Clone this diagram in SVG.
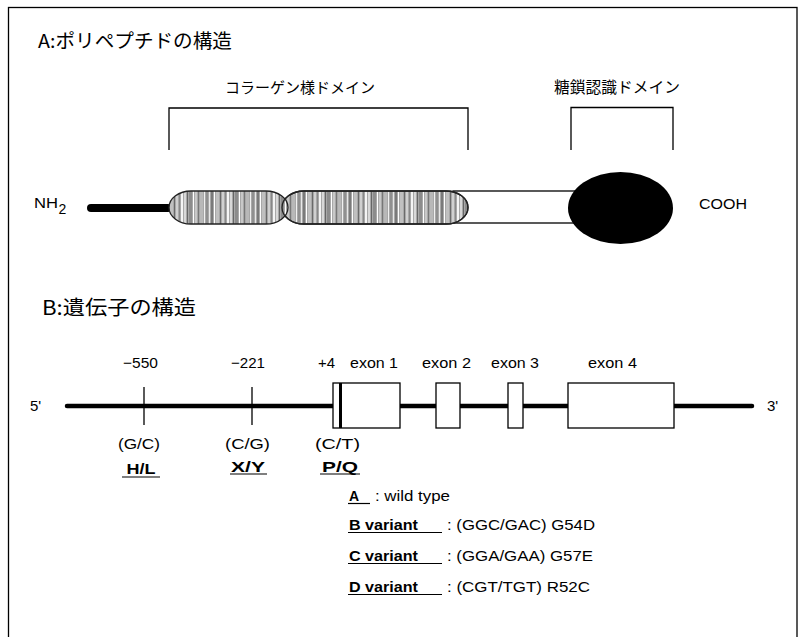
<svg xmlns="http://www.w3.org/2000/svg" width="798" height="637" viewBox="0 0 798 637">
<style>
.t{font-family:"Liberation Sans","Noto Sans CJK JP",sans-serif;fill:#000}
.j{font-family:"Noto Sans CJK JP","Liberation Sans",sans-serif;fill:#000}
.b{font-weight:bold}
.ln{stroke:#000;stroke-width:1.3;fill:none}
.box{fill:#fff;stroke:#000;stroke-width:1.3}
</style>
<defs>
<pattern id="stripes" patternUnits="userSpaceOnUse" x="0" y="0" width="46" height="40">
<rect width="46" height="40" fill="#a8a8a8"/>
<rect x="0" width="2" height="40" fill="#d8d8d8"/>
<rect x="3" width="1" height="40" fill="#666"/>
<rect x="5" width="3" height="40" fill="#8c8c8c"/>
<rect x="9" width="1" height="40" fill="#fff"/>
<rect x="11" width="2" height="40" fill="#c8c8c8"/>
<rect x="14" width="1" height="40" fill="#777"/>
<rect x="16" width="3" height="40" fill="#b8b8b8"/>
<rect x="20" width="1" height="40" fill="#f0f0f0"/>
<rect x="22" width="2" height="40" fill="#909090"/>
<rect x="25" width="1" height="40" fill="#e8e8e8"/>
<rect x="27" width="2" height="40" fill="#7a7a7a"/>
<rect x="30" width="1" height="40" fill="#fff"/>
<rect x="32" width="3" height="40" fill="#c0c0c0"/>
<rect x="36" width="1" height="40" fill="#6a6a6a"/>
<rect x="38" width="2" height="40" fill="#d0d0d0"/>
<rect x="41" width="1" height="40" fill="#888"/>
<rect x="43" width="2" height="40" fill="#f4f4f4"/>
</pattern>
</defs>
<rect x="0" y="0" width="798" height="637" fill="#fff"/>
<rect id="frame" x="8.5" y="7.5" width="788.5" height="640" fill="none" stroke="#000" stroke-width="1.3"/>

<g id="titleA"><text class="j" x="38" y="48" font-size="19" textLength="194" lengthAdjust="spacingAndGlyphs">A:ポリペプチドの構造</text></g>

<g id="collagen-domain">
<text class="j" x="225" y="93" font-size="15" textLength="150" lengthAdjust="spacingAndGlyphs">コラーゲン様ドメイン</text>
<path class="ln" d="M169,150 V108 H468 V150"/>
</g>
<g id="crd-domain">
<text class="j" x="554" y="93" font-size="15.5" textLength="126" lengthAdjust="spacingAndGlyphs">糖鎖認識ドメイン</text>
<path class="ln" d="M571,150 V107.5 H673 V150"/>
</g>

<g id="nh2"><text class="t" x="34" y="208" font-size="15" textLength="24" lengthAdjust="spacingAndGlyphs">NH</text><text class="t" x="58.5" y="213.5" font-size="14">2</text></g>
<g id="nterm"><line x1="91" y1="208" x2="168" y2="208" stroke="#000" stroke-width="8" stroke-linecap="round"/></g>

<g id="neck"><rect x="453" y="191" width="125" height="32" class="box" stroke="#333"/></g>
<g id="collagen2"><rect x="282" y="191" width="186" height="33" rx="22" ry="16.5" fill="url(#stripes)" stroke="#222" stroke-width="1.3"/></g>
<g id="collagen1"><rect x="169" y="191" width="119" height="33" rx="22" ry="16.5" fill="url(#stripes)" stroke="#222" stroke-width="1.3"/>
<rect x="282" y="191" width="186" height="33" rx="22" ry="16.5" fill="none" stroke="#222" stroke-width="1.3"/></g>
<g id="crd"><ellipse cx="620.5" cy="208" rx="52.5" ry="36" fill="#000"/></g>
<g id="cooh"><text class="t" x="699" y="209" font-size="15" textLength="48" lengthAdjust="spacingAndGlyphs">COOH</text></g>

<g id="titleB"><text class="j" x="42" y="315" font-size="20" textLength="154" lengthAdjust="spacingAndGlyphs">B:遺伝子の構造</text></g>

<g id="connectors">
<line x1="67" y1="406" x2="752" y2="406" stroke="#000" stroke-width="4.5" stroke-linecap="round"/>
<line class="ln" x1="144" y1="387" x2="144" y2="425"/>
<line class="ln" x1="252" y1="387" x2="252" y2="425"/>
</g>
<g id="ends">
<text class="t" x="30" y="411" font-size="15">5'</text>
<text class="t" x="767" y="411" font-size="15">3'</text>
</g>

<g id="exon1"><rect x="333" y="383" width="67" height="45" class="box"/><line x1="340.5" y1="383" x2="340.5" y2="428" stroke="#000" stroke-width="3"/>
<text class="t" x="350" y="368" font-size="15" textLength="48" lengthAdjust="spacingAndGlyphs">exon 1</text></g>
<g id="exon2"><rect x="436" y="383" width="24" height="45" class="box"/>
<text class="t" x="446.5" y="368" font-size="15" text-anchor="middle" textLength="49" lengthAdjust="spacingAndGlyphs">exon 2</text></g>
<g id="exon3"><rect x="508" y="383" width="15" height="45" class="box"/>
<text class="t" x="515" y="368" font-size="15" text-anchor="middle" textLength="48" lengthAdjust="spacingAndGlyphs">exon 3</text></g>
<g id="exon4"><rect x="568" y="383" width="106" height="45" class="box"/>
<text class="t" x="612.5" y="368" font-size="15" text-anchor="middle" textLength="49" lengthAdjust="spacingAndGlyphs">exon 4</text></g>

<g id="snp550">
<text class="t" x="140.5" y="368" font-size="15" text-anchor="middle" textLength="35" lengthAdjust="spacingAndGlyphs">−550</text>
<text class="t" x="139" y="449" font-size="15" text-anchor="middle" textLength="42" lengthAdjust="spacingAndGlyphs">(G/C)</text>
<text class="t b" x="141" y="474" font-size="14" text-anchor="middle" textLength="29" lengthAdjust="spacingAndGlyphs">H/L</text>
<line x1="122" y1="477" x2="160" y2="477" stroke="#000" stroke-width="1.2"/>
</g>
<g id="snp221">
<text class="t" x="248" y="368" font-size="15" text-anchor="middle" textLength="34" lengthAdjust="spacingAndGlyphs">−221</text>
<text class="t" x="247.5" y="449" font-size="15" text-anchor="middle" textLength="45" lengthAdjust="spacingAndGlyphs">(C/G)</text>
<text class="t b" x="248" y="472" font-size="14" text-anchor="middle" textLength="34" lengthAdjust="spacingAndGlyphs">X/Y</text>
<line x1="230" y1="474" x2="267" y2="474" stroke="#000" stroke-width="1.2"/>
</g>
<g id="snp4">
<text class="t" x="318" y="368" font-size="15" textLength="17" lengthAdjust="spacingAndGlyphs">+4</text>
<text class="t" x="337.5" y="449" font-size="15" text-anchor="middle" textLength="45" lengthAdjust="spacingAndGlyphs">(C/T)</text>
<text class="t b" x="340" y="472" font-size="14" text-anchor="middle" textLength="36" lengthAdjust="spacingAndGlyphs">P/Q</text>
<line x1="320" y1="474" x2="360" y2="474" stroke="#000" stroke-width="1.2"/>
</g>

<g id="legend">
<text class="t b" x="349" y="501" font-size="14">A</text>
<line x1="348" y1="503.5" x2="370" y2="503.5" stroke="#000" stroke-width="1.2"/>
<text class="t" x="375" y="501" font-size="14" textLength="75" lengthAdjust="spacingAndGlyphs">: wild type</text>
<text class="t b" x="349" y="530" font-size="14" textLength="69" lengthAdjust="spacingAndGlyphs">B variant</text>
<line x1="348" y1="532.5" x2="442" y2="532.5" stroke="#000" stroke-width="1.2"/>
<text class="t" x="447" y="530" font-size="14" textLength="148" lengthAdjust="spacingAndGlyphs">: (GGC/GAC) G54D</text>
<text class="t b" x="349" y="561" font-size="14" textLength="69" lengthAdjust="spacingAndGlyphs">C variant</text>
<line x1="348" y1="563.5" x2="442" y2="563.5" stroke="#000" stroke-width="1.2"/>
<text class="t" x="447" y="561" font-size="14" textLength="146" lengthAdjust="spacingAndGlyphs">: (GGA/GAA) G57E</text>
<text class="t b" x="349" y="592" font-size="14" textLength="69" lengthAdjust="spacingAndGlyphs">D variant</text>
<line x1="348" y1="594.5" x2="442" y2="594.5" stroke="#000" stroke-width="1.2"/>
<text class="t" x="447" y="592" font-size="14" textLength="143" lengthAdjust="spacingAndGlyphs">: (CGT/TGT) R52C</text>
</g>
</svg>
